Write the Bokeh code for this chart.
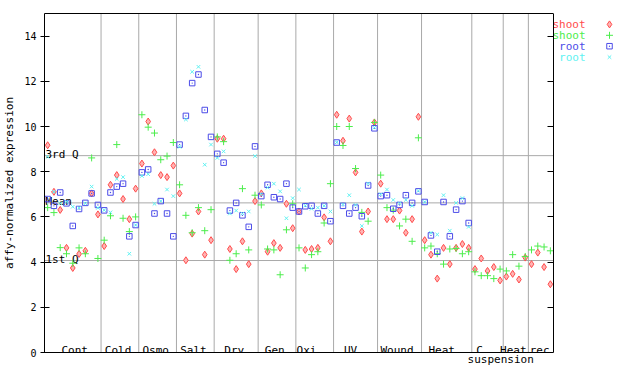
import math
from bokeh.plotting import figure
from bokeh.models import Range1d, LinearAxis, FixedTicker, ColumnDataSource
from bokeh.core.properties import value
from bokeh.embed import file_html
from bokeh.resources import INLINE

NaN = float("nan")

# ---------------- data ----------------
groups = ["Cont", "Cold", "Osmo", "Salt", "Dry", "Gen", "Oxi", "UV", "Wound",
          "Heat", "C", "Heat", "rec"]
group_sizes = [9, 6, 6, 6, 7, 6, 6, 7, 7, 8, 5, 4, 4]
second_line = "suspension"   # second line of the "C suspension" label

series_names = ["shoot", "shoot", "root", "root"]

shoot_a = [
    9.17, 7.11, 6.31, 4.63, 3.74, 4.36, 4.50, 7.04, 6.11,
    4.71, 7.42, 7.85, 6.79, 5.90, 7.25,
    8.36, 10.22, 8.86, 7.85, 7.76, 8.27,
    7.04, 4.08, 5.26, 6.24, 4.33, 4.97,
    9.46, 9.46, 4.58, 3.69, 4.92, 3.91, 6.70,
    7.04, 4.46, 4.84, 4.63, 6.58, 5.50,
    6.24, 4.54, 4.58, 4.63, 5.98, 4.92,
    10.52, 9.37, 10.35, 7.97, 5.35, 6.24, 10.18,
    7.47, 5.90, 5.90, 6.28, 5.30, 5.90, 10.43,
    4.97, 4.33, 3.27, 4.63, 3.91, 4.63, 4.80, 4.63,
    3.69, 4.16, 3.61, 3.78, 3.19,
    3.36, 3.48, 3.23, 4.20,
    3.91, 4.42, 3.78, 3.02]

shoot_b = [
    6.41, 6.19, 4.64, 4.37, 3.95, 4.63, 4.37, 8.61, 4.16,
    4.97, 6.05, 9.20, 5.94, 5.35, 6.00,
    10.52, 9.97, 9.71, 8.53, 8.69, 9.29,
    7.42, 6.07, 5.30, 6.41, 5.39, 6.32,
    9.54, 9.33, 4.08, 4.37, 7.25, 4.54, 6.96,
    6.53, 4.58, 4.54, 3.44, 5.43, 6.58,
    4.63, 3.74, 4.33, 4.46, 5.73, 7.47,
    10.00, 9.16, 10.00, 8.14, 6.20, 5.81, 10.18,
    7.85, 6.41, 6.30, 5.60, 5.90, 4.92, 9.50,
    4.63, 4.71, 4.37, 3.91, 4.58, 4.60, 4.37, 4.46,
    3.57, 3.40, 3.40, 3.27, 3.69,
    3.61, 4.33, 3.82, 4.25,
    4.54, 4.71, 4.67, 4.50]

root_a = [
    6.79, 6.49, 7.08, 6.60, 5.60, 6.35, 6.62, 7.04, 6.53,
    6.29, 7.08, 7.34, 7.47, 5.14, 5.64,
    7.97, 8.10, 6.15, 6.70, 6.15, 5.14,
    9.20, 10.47, 11.92, 12.30, 10.73, 9.54,
    8.79, 8.40, 6.28, 6.62, 6.07, 5.56, 9.12,
    6.92, 7.42, 6.87, 6.79, 7.47, 6.41,
    6.24, 6.47, 6.49, 6.15, 6.49, 5.81,
    9.29, 6.49, 6.15, 6.41, 6.03, 7.39, 9.92,
    6.92, 6.96, 6.36, 6.53, 6.96, 6.62, 7.13,
    6.66, 5.18, 4.46, 6.66, 5.14, 6.32, 6.70, 5.73,
    NaN, NaN, NaN, NaN, NaN,
    NaN, NaN, NaN, NaN,
    NaN, NaN, NaN, NaN]

root_b = [
    8.66, 7.11, 6.60, 6.67, 6.45, 6.40, 6.60, 7.34, 6.40,
    6.30, 6.20, 7.68, 7.76, 4.37, 5.64,
    7.81, 7.89, 6.58, 6.70, 7.21, 6.92,
    9.10, 10.31, 12.42, 12.64, 8.31, 9.20,
    8.61, 8.90, 6.15, 6.28, 6.15, 6.24, 8.69,
    7.00, 7.30, 7.47, 7.13, 5.94, 6.83,
    7.21, 6.50, 6.36, 6.41, 6.49, 6.24,
    9.30, 6.55, 6.96, 6.53, 5.60, 7.48, 9.95,
    7.00, 7.21, 6.75, 6.60, 6.75, 6.49, 7.15,
    6.66, 5.30, 5.22, 6.96, 5.39, 6.62, 6.83, 5.56,
    NaN, NaN, NaN, NaN, NaN,
    NaN, NaN, NaN, NaN,
    NaN, NaN, NaN, NaN]

q_labels = ["3rd Q", "Mean", "1st Q"]
q_values = [8.71, 6.62, 4.07]

y_ticks = [0, 2, 4, 6, 8, 10, 12, 14]

# ---------------- layout constants ----------------
FONT = "DejaVu Sans Mono"
W, H = 624, 368
LB, TB, BB = 44, 13, 13
PX_PER_UNIT = 6.284
Y_MAX = 15
n_total = sum(group_sizes)
x_end = (W - LB) / PX_PER_UNIT
ppu_y = (H - TB - BB) / Y_MAX

RED, GREEN, BLUE, CYAN = "#ff4c4c", "#4ced4c", "#4c4ce8", "#5ef2f2"
GRID = "#a9a9a9"

p = figure(width=W, height=H, x_range=Range1d(0, x_end), y_range=Range1d(0, Y_MAX),
           output_backend="svg", toolbar_location=None,
           min_border_left=LB, min_border_right=0, min_border_top=TB,
           min_border_bottom=BB, y_axis_label="affy-normalized expression")
p.grid.visible = False
p.outline_line_color = None
p.background_fill_color = "white"
p.border_fill_color = "white"

# left axis
ya = p.yaxis[0]
ya.ticker = FixedTicker(ticks=y_ticks)
ya.major_tick_in = 5
ya.major_tick_out = 4
ya.minor_tick_in = 0
ya.minor_tick_out = 0
ya.major_tick_line_color = "black"
ya.axis_line_color = "black"
ya.major_label_text_font = FONT
ya.major_label_text_font_size = "10px"
ya.major_label_text_color = "black"
ya.major_label_standoff = 4
ya.axis_label_text_font = FONT
ya.axis_label_text_font_size = "11px"
ya.axis_label_text_font_style = "normal"
ya.axis_label_text_color = "black"
ya.axis_label_standoff = 5

# category centres
centers = []
acc = 0
for s in group_sizes:
    centers.append(acc + s / 2)
    acc += s

# bottom axis: plain line under the data area, carrying the 2nd label line
susp_x = round(centers[10] + 2.1, 2)
xa = p.xaxis[0]
xa.ticker = FixedTicker(ticks=[susp_x])
xa.major_label_overrides = {susp_x: second_line}
xa.bounds = (0, n_total)
xa.major_tick_in = 0
xa.major_tick_out = 0
xa.minor_tick_in = 0
xa.minor_tick_out = 0
xa.major_label_standoff = 0
xa.major_label_text_font = FONT
xa.major_label_text_font_size = "11px"
xa.major_label_text_color = "black"
xa.axis_line_color = "black"

# top border
ta = LinearAxis(ticker=FixedTicker(ticks=[]), bounds=(0, n_total), major_tick_in=0,
                major_tick_out=0, minor_tick_in=0, minor_tick_out=0,
                major_label_standoff=0, axis_line_color="black")
p.add_layout(ta, "above")

# right border with inward ticks (drawn as label-less minor ticks)
ra = LinearAxis(fixed_location=n_total,
                ticker=FixedTicker(ticks=[], minor_ticks=y_ticks),
                major_tick_in=0, major_tick_out=0, minor_tick_in=6, minor_tick_out=0,
                major_label_standoff=0, axis_line_color="black",
                minor_tick_line_color="black")
p.add_layout(ra, "right")

# group separators
bounds = []
acc = 0
for s in group_sizes[:-1]:
    acc += s
    bounds.append(acc)
p.segment(x0=bounds, y0=[0] * len(bounds), x1=bounds, y1=[Y_MAX] * len(bounds),
          line_color=GRID, line_width=1)

# quartile / mean lines
p.segment(x0=[0] * 3, y0=q_values, x1=[n_total] * 3, y1=q_values,
          line_color=GRID, line_width=1)
p.text(x=[0] * 3, y=q_values, text=q_labels, text_font=value(FONT),
       text_font_size="11px", text_color="black", text_baseline="alphabetic",
       text_align="left", x_offset=1, y_offset=-1)

# category labels (inside, above bottom axis)
label_shift = [0.3, -0.3, -0.3, -0.3, -0.3, -0.35, -1.3, -0.8, -0.4, -0.8, -1.25, -0.4, -0.2]
label_x = [c + d for c, d in zip(centers, label_shift)]
p.text(x=label_x, y=[0] * len(groups), text=groups, text_font=value(FONT),
       text_font_size="11px", text_color="black", text_baseline="alphabetic",
       text_align="center", y_offset=-2)

# data
xs = [i + 0.5 for i in range(n_total)]
src = ColumnDataSource(dict(x=xs, a=shoot_a, b=shoot_b, c=root_a, d=root_b))
p.scatter("x", "a", source=src, marker="diamond", size=7, line_color=RED,
          fill_color="#ffb3b3", line_width=1)
p.scatter("x", "b", source=src, marker="cross", size=7, line_color=GREEN, line_width=1)
p.scatter("x", "c", source=src, marker="square_dot", size=5.5, line_color=BLUE,
          fill_color=None, line_width=1)
p.scatter("x", "d", source=src, marker="x", size=5, line_color=CYAN, line_width=1)

# legend (right of the data area)
leg_colors = [RED, GREEN, BLUE, CYAN]
leg_y = [Y_MAX - (24 + 11 * k - TB) / ppu_y for k in range(4)]
leg_text_x = [(585 - LB) / PX_PER_UNIT] * 4
leg_mark_x = [(609 - LB) / PX_PER_UNIT] * 4
p.text(x=leg_text_x, y=leg_y, text=series_names, text_color=leg_colors,
       text_font=value(FONT), text_font_size="11px", text_align="right",
       text_baseline="middle")
p.scatter(leg_mark_x[0:1], leg_y[0:1], marker="diamond", size=7, line_color=RED,
          fill_color="#ffb3b3")
p.scatter(leg_mark_x[1:2], leg_y[1:2], marker="cross", size=7, line_color=GREEN)
p.scatter(leg_mark_x[2:3], leg_y[2:3], marker="square_dot", size=5.5, line_color=BLUE,
          fill_color=None)
p.scatter(leg_mark_x[3:4], leg_y[3:4], marker="x", size=5, line_color=CYAN)

open("out.html", "w").write(file_html(p, INLINE))
